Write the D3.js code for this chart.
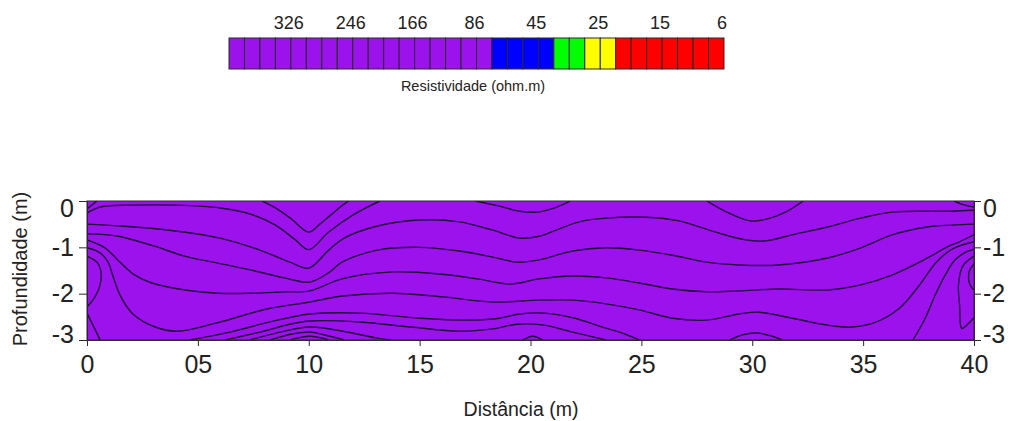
<!DOCTYPE html>
<html>
<head>
<meta charset="utf-8">
<script src="https://cdn.jsdelivr.net/npm/d3@7"></script>
<style>
body { margin: 0; background: #fff; }
text { font-family: "Liberation Sans", Arial, sans-serif; fill: #222; }
</style>
</head>
<body>
<svg id="drawing_region"></svg>
<script>
// colour bar classes (left to right)
const barColors = ['#9b12ec', '#0000ff', '#00ff00', '#ffff00', '#ff0000'];
const barCounts = [17, 4, 2, 2, 7];
const barLabels = ['326', '246', '166', '86', '45', '25', '15', '6'];

// axes
const xTicks = [0, 5, 10, 15, 20, 25, 30, 35, 40];
const xTickLabels = ['0', '05', '10', '15', '20', '25', '30', '35', '40'];
const yTicks = [0, -1, -2, -3];
const yTickLabels = ['0', '-1', '-2', '-3'];

// contour lines, [distance m, depth m]
const cTopLeft = [[0,-0.17],[0.45,0]];
const cV1 = [[7.9,0],[8.5,-0.15],[9.2,-0.38],[10,-0.67],[10.5,-0.5],[11,-0.3],[11.5,-0.1],[11.8,0]];
const cV2 = [[0,-0.26],[0.6,-0.13],[2,-0.09],[4,-0.09],[6,-0.15],[7.35,-0.28],[8.5,-0.52],[9.4,-0.84],[10,-1.05],[10.9,-0.67],[12,-0.3],[13.2,0]];
const cV3 = [[0,-0.5],[1.5,-0.54],[3.7,-0.63],[6,-0.8],[7.8,-1.06],[9.15,-1.32],[10,-1.45],[10.9,-1.06],[11.6,-0.8],[13.1,-0.54],[15,-0.41],[16.8,-0.45],[18.3,-0.63],[19.5,-0.8],[20.4,-0.76],[21.3,-0.6],[22.2,-0.45],[23.4,-0.37],[25.2,-0.35],[26.7,-0.43],[28.2,-0.65],[29.7,-0.84],[30.6,-0.86],[31.8,-0.73],[33.4,-0.56],[34.9,-0.37],[36.3,-0.24],[37.9,-0.22],[39,-0.22],[40,-0.2]];
const cLine4 = [[0,-0.71],[1.4,-0.76],[3,-0.97],[4.4,-1.19],[5.9,-1.34],[7.4,-1.49],[8.9,-1.66],[10.05,-1.75],[10.95,-1.53],[11.5,-1.32],[13.1,-1.06],[15,-1.0],[16.8,-1.08],[18.3,-1.21],[19.4,-1.32],[20.4,-1.27],[21.9,-1.08],[23.4,-1.01],[24.9,-1.06],[26.4,-1.17],[27.95,-1.32],[29.4,-1.38],[31.2,-1.38],[33.4,-1.23],[34.9,-1.01],[36.3,-0.73],[37.9,-0.56],[39,-0.52],[40,-0.5]];
const cLine5 = [[0,-0.84],[0.81,-1.01],[1.49,-1.32],[2.16,-1.6],[2.93,-1.77],[4.42,-1.92],[5.9,-1.99],[7.44,-1.99],[8.93,-1.96],[10.05,-1.94],[11.5,-1.68],[13.8,-1.53],[16,-1.58],[17.6,-1.68],[19.1,-1.79],[20.4,-1.68],[21.9,-1.62],[23.4,-1.66],[24.9,-1.77],[26.4,-1.9],[27.95,-1.96],[29.4,-1.94],[31.2,-1.9],[33.4,-1.92],[34.9,-1.81],[36.3,-1.6],[37.9,-1.23],[38.8,-0.99],[39.35,-0.88],[40,-0.73]];
const cLine6 = [[0,-1.01],[0.59,-1.12],[0.95,-1.32],[1.17,-1.62],[1.49,-2.03],[2.07,-2.44],[3.07,-2.72],[4.06,-2.81],[5.86,-2.63],[8.12,-2.33],[10.05,-2.18],[11.54,-2.05],[13.8,-1.99],[16.05,-2.07],[18.3,-2.18],[20.4,-2.14],[21.9,-2.14],[23.4,-2.22],[24.9,-2.35],[26.4,-2.53],[27.95,-2.57],[29.4,-2.44],[30.3,-2.4],[31.8,-2.53],[33.4,-2.68],[34.5,-2.72],[35.6,-2.61],[36.65,-2.31],[37.55,-1.81],[38.3,-1.32],[39.05,-1.03],[40,-0.88]];
const cLoopLeft = [[0,-1.19],[0.45,-1.32],[0.63,-1.53],[0.59,-1.81],[0.36,-2.07],[0,-2.29]];
const cCornerLeft = [[0,-2.42],[0.27,-2.68],[0.59,-3]];
const cArc1 = [[4.64,-3],[6.45,-2.83],[8.25,-2.61],[10.05,-2.44],[12.3,-2.42],[15,-2.53],[17.3,-2.57],[18.6,-2.53],[19.5,-2.44],[20.65,-2.42],[22,-2.53],[23.1,-2.7],[24.25,-2.87],[24.9,-3]];
const cArc2 = [[6.22,-3],[7.8,-2.83],[9.15,-2.66],[10.05,-2.59],[12.3,-2.61],[14.6,-2.72],[16.8,-2.81],[18.3,-2.76],[19.4,-2.66],[20.6,-2.68],[21.9,-2.83],[23.4,-3]];
const cArc3 = [[7.35,-3],[8.7,-2.83],[10.05,-2.72],[11.55,-2.81],[13.1,-2.96],[13.7,-3]];
const cArc4 = [[8.25,-3],[9.25,-2.87],[10.05,-2.83],[10.95,-2.92],[11.6,-3]];
const cArc5 = [[9.15,-3],[10.05,-2.92],[10.9,-3]];
const cU20 = [[17.5,0],[18.6,-0.11],[19.5,-0.22],[20.3,-0.24],[21.1,-0.15],[21.8,0]];
const cDot20 = [[19.65,-3],[20.1,-2.92],[20.55,-3]];
const cU30 = [[27.95,0],[28.85,-0.24],[29.9,-0.43],[30.65,-0.39],[31.5,-0.24],[32.3,0]];
const cBump30 = [[29,-3],[29.55,-2.89],[30.2,-2.85],[30.9,-2.92],[31.35,-3]];
const cCornerRight = [[39.1,0],[39.6,-0.09],[40,-0.13]];
const cLine7 = [[37.25,-3],[37.8,-2.53],[38.25,-2.03],[38.7,-1.6],[39.15,-1.27],[39.65,-1.1],[40,-1.04]];
const cWedge = [[40,-1.19],[39.5,-1.4],[39.3,-1.81],[39.35,-2.25],[39.45,-2.75],[39.8,-2.62],[40,-2.52]];
const cLoopRight = [[40,-1.36],[39.78,-1.53],[39.82,-1.81],[40,-1.92]];

const contours = [cTopLeft, cV1, cV2, cV3, cLine4, cLine5, cLine6, cLoopLeft, cCornerLeft,
    cArc1, cArc2, cArc3, cArc4, cArc5, cU20, cDot20, cU30, cBump30, cCornerRight,
    cLine7, cWedge, cLoopRight];

const config = {
    width: 1018,
    height: 421,
    margin: {top: 201, right: 44, bottom: 81, left: 87}
};

const svg = d3.select('#drawing_region')
    .attr('width', config.width)
    .attr('height', config.height);

// ---- colour bar ----
const cells = [];
barColors.forEach((c, i) => { for (let k = 0; k < barCounts[i]; k++) cells.push(c); });

const cbScale = d3.scaleLinear().domain([0, cells.length]).range([229, 724]);
const cb = svg.append('g');

cb.selectAll('rect').data(cells).join('rect')
    .attr('x', (d, i) => cbScale(i))
    .attr('y', 38)
    .attr('width', cbScale(1) - cbScale(0))
    .attr('height', 31)
    .attr('fill', d => d)
    .attr('stroke', '#2a2a2a')
    .attr('stroke-width', 1);

cb.selectAll('text.cblabel').data(barLabels).join('text')
    .attr('class', 'cblabel')
    .attr('x', (d, i) => cbScale((i + 1) * 4) - 2)
    .attr('y', 29)
    .attr('text-anchor', 'middle')
    .attr('font-size', 18)
    .text(d => d);

cb.append('text')
    .attr('x', 473)
    .attr('y', 91)
    .attr('text-anchor', 'middle')
    .attr('font-size', 14.5)
    .text('Resistividade (ohm.m)');

// ---- section ----
const innerW = config.width - config.margin.left - config.margin.right;
const innerH = config.height - config.margin.top - config.margin.bottom;

const chart = svg.append('g')
    .attr('transform', `translate(${config.margin.left}, ${config.margin.top})`);

const xscale = d3.scaleLinear().domain([0, 40]).range([0, innerW]);
const yscale = d3.scaleLinear().domain([-3, 0]).range([innerH, 0]);

chart.append('clipPath').attr('id', 'clip')
    .append('rect').attr('width', innerW).attr('height', innerH);

chart.append('rect')
    .attr('width', innerW)
    .attr('height', innerH)
    .attr('fill', barColors[0]);

const line = d3.line()
    .x(d => xscale(d[0]))
    .y(d => yscale(d[1]))
    .curve(d3.curveCatmullRom.alpha(0.5));

chart.append('g').attr('clip-path', 'url(#clip)')
    .selectAll('path').data(contours).join('path')
    .attr('d', line)
    .attr('fill', 'none')
    .attr('stroke', '#220838')
    .attr('stroke-width', 1.4);

chart.append('rect')
    .attr('width', innerW)
    .attr('height', innerH)
    .attr('fill', 'none')
    .attr('stroke', '#2a2a2a')
    .attr('stroke-width', 1);

const xaxis = d3.axisBottom(xscale)
    .tickValues(xTicks)
    .tickFormat((d, i) => xTickLabels[i])
    .tickSize(6)
    .tickPadding(9)
    .tickSizeOuter(0);

const yfmt = (d, i) => yTickLabels[i];
const ydy = d => d === 0 ? '0.6em' : (d === -3 ? '0.08em' : '0.32em');

const yaxisL = d3.axisLeft(yscale).tickValues(yTicks).tickFormat(yfmt)
    .tickSize(8).tickPadding(5).tickSizeOuter(0);
const yaxisR = d3.axisRight(yscale).tickValues(yTicks).tickFormat(yfmt)
    .tickSize(7).tickPadding(2).tickSizeOuter(0);

const gx = chart.append('g')
    .attr('transform', `translate(0, ${innerH})`)
    .call(xaxis);
gx.selectAll('text').attr('font-size', 25).attr('fill', '#222');

const gl = chart.append('g').call(yaxisL);
gl.selectAll('text').attr('font-size', 25).attr('fill', '#222').attr('dy', ydy);

const gr = chart.append('g')
    .attr('transform', `translate(${innerW}, 0)`)
    .call(yaxisR);
gr.selectAll('text').attr('font-size', 25).attr('fill', '#222').attr('dy', ydy);

svg.selectAll('.domain, .tick line').attr('stroke', '#2a2a2a');

svg.append('text')
    .attr('x', 521)
    .attr('y', 416)
    .attr('text-anchor', 'middle')
    .attr('font-size', 19.5)
    .text('Distância (m)');

svg.append('text')
    .attr('transform', 'translate(27, 269) rotate(-90)')
    .attr('text-anchor', 'middle')
    .attr('font-size', 20)
    .text('Profundidade (m)');
</script>
</body>
</html>
